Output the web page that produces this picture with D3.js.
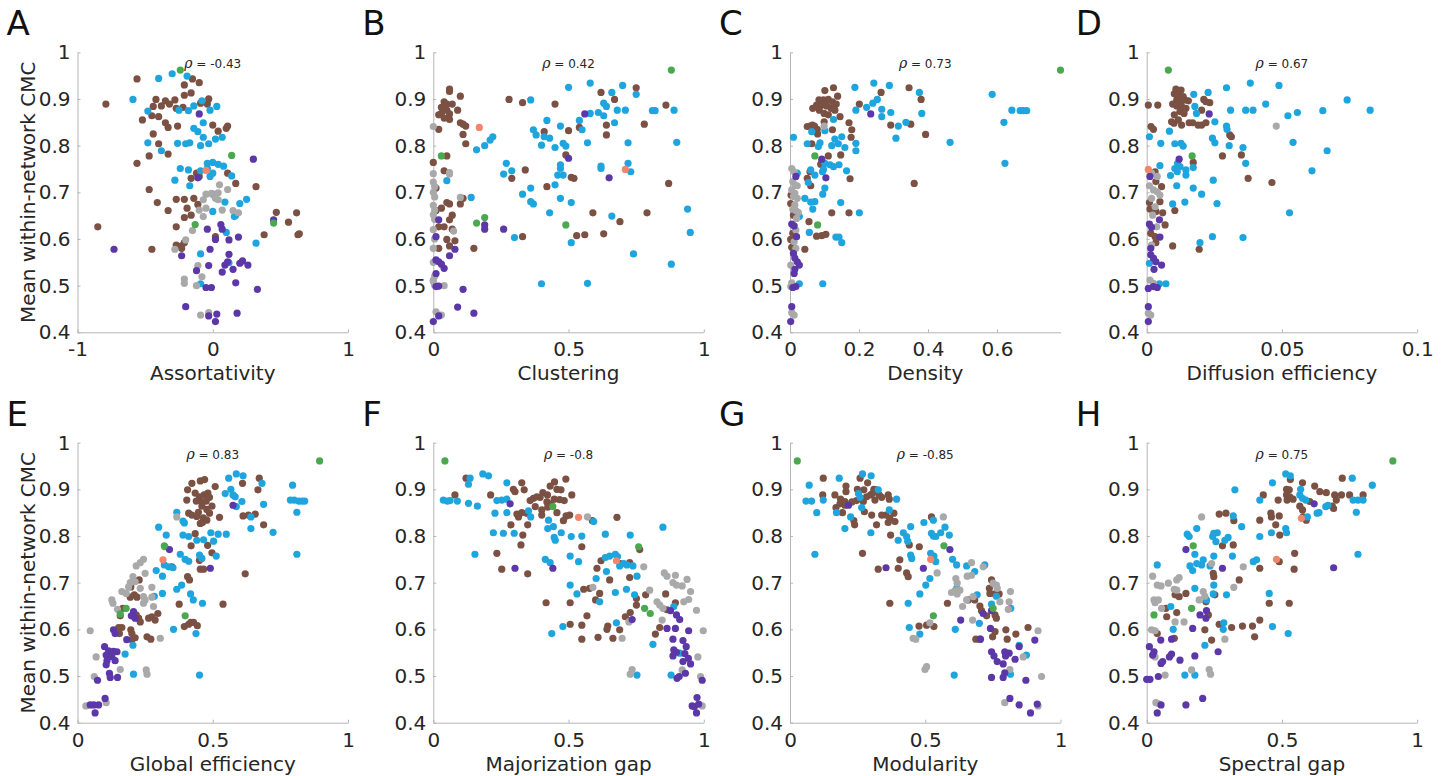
<!DOCTYPE html>
<html>
<head>
<meta charset="utf-8">
<script src="https://cdn.jsdelivr.net/npm/d3@7"></script>
<style>
  body { margin: 0; background: #fff; }
  text { font-family: "DejaVu Sans", sans-serif; }
</style>
</head>
<body>
<svg id="fig" width="1444" height="776"></svg>
<script>
// Each point: [x value, mean within-network CMC, group]
// groups: b = brown, u = blue, p = purple, g = gray, n = green, o = orange
var assortativity = [[-0.24,0.962,'n'],[-0.30,0.954,'u'],[-0.19,0.949,'u'],[-0.56,0.943,'b'],[-0.40,0.944,'u'],[-0.15,0.943,'b'],[-0.10,0.935,'b'],[-0.21,0.930,'b'],[-0.59,0.899,'u'],[-0.79,0.889,'b'],[-0.42,0.899,'b'],[-0.35,0.896,'b'],[-0.28,0.898,'b'],[-0.21,0.908,'b'],[-0.16,0.913,'b'],[-0.03,0.900,'b'],[-0.04,0.889,'b'],[-0.48,0.874,'u'],[-0.44,0.884,'b'],[-0.38,0.885,'b'],[-0.32,0.889,'b'],[-0.27,0.880,'b'],[-0.25,0.876,'u'],[-0.22,0.882,'b'],[-0.18,0.875,'u'],[-0.14,0.885,'u'],[-0.08,0.896,'u'],[-0.02,0.876,'u'],[0.03,0.884,'u'],[-0.09,0.891,'b'],[-0.10,0.868,'p'],[-0.52,0.855,'b'],[-0.45,0.864,'b'],[-0.40,0.862,'b'],[-0.35,0.849,'b'],[-0.33,0.839,'b'],[-0.26,0.842,'b'],[-0.14,0.837,'u'],[-0.07,0.849,'u'],[0.00,0.844,'b'],[0.04,0.831,'b'],[0.10,0.837,'b'],[0.11,0.842,'b'],[0.07,0.818,'u'],[0.02,0.814,'u'],[-0.44,0.825,'b'],[-0.48,0.806,'u'],[-0.40,0.804,'b'],[-0.38,0.789,'u'],[-0.33,0.782,'b'],[-0.26,0.805,'u'],[-0.20,0.804,'u'],[-0.17,0.806,'u'],[-0.09,0.800,'u'],[-0.03,0.804,'u'],[-0.07,0.818,'u'],[-0.11,0.830,'u'],[-0.47,0.778,'b'],[-0.56,0.762,'b'],[0.14,0.779,'n'],[0.30,0.771,'p'],[-0.24,0.751,'u'],[-0.18,0.748,'u'],[-0.12,0.741,'b'],[-0.09,0.746,'u'],[-0.04,0.762,'u'],[0.00,0.764,'u'],[0.04,0.760,'u'],[0.08,0.756,'u'],[-0.04,0.751,'u'],[0.00,0.741,'u'],[-0.02,0.734,'u'],[-0.10,0.734,'b'],[-0.11,0.731,'p'],[-0.05,0.747,'o'],[-0.16,0.730,'b'],[0.11,0.741,'b'],[0.14,0.735,'u'],[-0.28,0.726,'u'],[-0.17,0.714,'u'],[0.17,0.719,'b'],[0.32,0.712,'b'],[-0.47,0.706,'b'],[0.05,0.716,'g'],[0.11,0.706,'g'],[0.04,0.699,'g'],[-0.05,0.696,'g'],[-0.01,0.698,'g'],[0.00,0.696,'u'],[0.02,0.687,'g'],[0.04,0.684,'g'],[-0.07,0.684,'g'],[-0.41,0.678,'b'],[-0.27,0.685,'b'],[-0.21,0.685,'b'],[-0.14,0.687,'b'],[0.09,0.679,'u'],[0.25,0.685,'u'],[0.20,0.676,'u'],[-0.33,0.661,'b'],[-0.19,0.666,'b'],[-0.11,0.674,'b'],[-0.10,0.662,'g'],[-0.05,0.666,'g'],[0.00,0.659,'u'],[0.07,0.662,'g'],[0.15,0.661,'g'],[0.17,0.651,'u'],[0.19,0.656,'g'],[0.16,0.648,'u'],[-0.21,0.646,'b'],[-0.16,0.651,'b'],[-0.07,0.648,'g'],[0.47,0.657,'b'],[0.62,0.656,'b'],[0.56,0.636,'b'],[0.45,0.641,'p'],[0.45,0.634,'n'],[-0.85,0.626,'b'],[-0.13,0.631,'n'],[-0.15,0.618,'g'],[-0.27,0.626,'b'],[-0.04,0.621,'p'],[0.06,0.631,'p'],[0.07,0.621,'p'],[0.10,0.614,'u'],[0.02,0.605,'b'],[0.02,0.599,'p'],[-0.27,0.587,'b'],[-0.23,0.585,'b'],[-0.21,0.592,'b'],[-0.20,0.598,'g'],[-0.28,0.578,'g'],[-0.23,0.580,'b'],[-0.45,0.578,'b'],[-0.73,0.578,'p'],[0.12,0.598,'p'],[0.19,0.604,'p'],[0.38,0.609,'b'],[0.63,0.609,'b'],[0.64,0.611,'b'],[0.32,0.591,'u'],[-0.02,0.578,'p'],[-0.23,0.564,'p'],[-0.09,0.568,'u'],[0.12,0.567,'p'],[0.12,0.549,'u'],[-0.03,0.543,'p'],[0.09,0.544,'p'],[0.11,0.551,'p'],[-0.11,0.543,'g'],[-0.12,0.532,'p'],[0.07,0.529,'p'],[0.15,0.535,'p'],[0.20,0.548,'p'],[0.22,0.553,'p'],[0.26,0.544,'p'],[-0.21,0.514,'g'],[-0.21,0.505,'g'],[-0.08,0.519,'g'],[-0.09,0.504,'u'],[-0.12,0.500,'g'],[-0.05,0.496,'p'],[-0.01,0.496,'p'],[0.17,0.506,'p'],[0.33,0.492,'p'],[-0.20,0.455,'p'],[-0.09,0.437,'g'],[-0.03,0.442,'g'],[-0.03,0.435,'p'],[0.03,0.439,'p'],[0.02,0.423,'p'],[0.18,0.441,'p']];

var clustering = [[0.88,0.962,'n'],[0.50,0.925,'u'],[0.58,0.934,'u'],[0.70,0.929,'u'],[0.75,0.924,'b'],[0.75,0.910,'u'],[0.66,0.914,'u'],[0.62,0.914,'b'],[0.67,0.899,'b'],[0.63,0.891,'u'],[0.64,0.884,'u'],[0.61,0.871,'u'],[0.63,0.864,'u'],[0.68,0.876,'u'],[0.71,0.876,'u'],[0.56,0.868,'p'],[0.58,0.869,'u'],[0.54,0.854,'u'],[0.67,0.849,'u'],[0.78,0.846,'b'],[0.81,0.875,'u'],[0.82,0.875,'u'],[0.86,0.887,'b'],[0.89,0.876,'u'],[0.90,0.807,'u'],[0.45,0.889,'b'],[0.28,0.899,'b'],[0.33,0.892,'b'],[0.36,0.898,'u'],[0.37,0.834,'u'],[0.38,0.823,'u'],[0.41,0.819,'u'],[0.42,0.854,'u'],[0.41,0.830,'b'],[0.43,0.816,'u'],[0.40,0.801,'u'],[0.45,0.796,'u'],[0.47,0.842,'u'],[0.50,0.832,'b'],[0.54,0.839,'b'],[0.55,0.834,'u'],[0.64,0.823,'b'],[0.64,0.844,'b'],[0.57,0.806,'u'],[0.48,0.805,'u'],[0.49,0.799,'u'],[0.49,0.780,'b'],[0.50,0.773,'p'],[0.62,0.756,'u'],[0.62,0.751,'u'],[0.72,0.806,'u'],[0.72,0.762,'u'],[0.73,0.744,'u'],[0.71,0.749,'o'],[0.65,0.731,'p'],[0.87,0.719,'b'],[0.47,0.759,'u'],[0.47,0.751,'u'],[0.46,0.737,'u'],[0.48,0.737,'u'],[0.51,0.732,'b'],[0.52,0.730,'b'],[0.45,0.716,'u'],[0.42,0.712,'b'],[0.47,0.687,'u'],[0.51,0.678,'u'],[0.43,0.656,'u'],[0.59,0.656,'b'],[0.79,0.656,'b'],[0.66,0.649,'u'],[0.69,0.637,'b'],[0.94,0.664,'u'],[0.95,0.614,'u'],[0.49,0.630,'n'],[0.63,0.611,'b'],[0.53,0.607,'b'],[0.56,0.609,'b'],[0.51,0.592,'u'],[0.74,0.568,'u'],[0.88,0.546,'u'],[0.40,0.504,'u'],[0.57,0.505,'u'],[0.29,0.730,'b'],[0.29,0.746,'u'],[0.26,0.739,'u'],[0.27,0.762,'u'],[0.34,0.748,'b'],[0.36,0.709,'u'],[0.33,0.696,'u'],[0.36,0.680,'u'],[0.37,0.675,'u'],[0.30,0.603,'u'],[0.33,0.605,'b'],[0.26,0.621,'p'],[0.19,0.800,'u'],[0.21,0.812,'u'],[0.22,0.819,'u'],[0.16,0.791,'u'],[0.17,0.839,'o'],[0.14,0.689,'u'],[0.16,0.634,'n'],[0.19,0.646,'n'],[0.19,0.630,'p'],[0.19,0.621,'p'],[0.15,0.580,'b'],[0.15,0.441,'p'],[0.09,0.454,'p'],[0.11,0.492,'p'],[0.06,0.921,'b'],[0.06,0.916,'b'],[0.10,0.906,'b'],[0.04,0.894,'b'],[0.05,0.889,'b'],[0.07,0.889,'b'],[0.03,0.882,'b'],[0.02,0.866,'b'],[0.03,0.869,'b'],[0.05,0.876,'b'],[0.06,0.868,'b'],[0.04,0.859,'b'],[0.09,0.876,'b'],[0.06,0.856,'b'],[0.02,0.835,'b'],[0.10,0.849,'b'],[0.11,0.846,'b'],[0.12,0.842,'b'],[0.11,0.824,'b'],[0.12,0.804,'b'],[0.00,0.841,'g'],[0.00,0.764,'b'],[0.03,0.778,'n'],[0.05,0.778,'b'],[0.04,0.746,'b'],[0.06,0.742,'g'],[0.05,0.725,'u'],[0.06,0.739,'g'],[0.00,0.740,'g'],[0.00,0.722,'g'],[0.005,0.712,'g'],[0.00,0.700,'g'],[0.005,0.690,'g'],[0.00,0.672,'g'],[0.005,0.662,'g'],[0.00,0.652,'g'],[0.005,0.642,'g'],[0.00,0.620,'g'],[0.005,0.600,'g'],[0.00,0.550,'g'],[0.005,0.520,'g'],[0.00,0.512,'g'],[0.005,0.501,'g'],[0.01,0.709,'b'],[0.05,0.678,'b'],[0.06,0.675,'b'],[0.01,0.661,'b'],[0.03,0.666,'b'],[0.10,0.689,'g'],[0.10,0.675,'b'],[0.11,0.687,'b'],[0.07,0.651,'b'],[0.06,0.641,'b'],[0.02,0.626,'b'],[0.04,0.626,'b'],[0.07,0.621,'b'],[0.075,0.617,'g'],[0.02,0.641,'p'],[0.01,0.605,'p'],[0.05,0.599,'b'],[0.08,0.596,'b'],[0.06,0.585,'b'],[0.02,0.580,'b'],[0.00,0.580,'g'],[0.08,0.578,'p'],[0.06,0.564,'p'],[0.01,0.555,'p'],[0.02,0.551,'p'],[0.03,0.546,'p'],[0.04,0.537,'p'],[0.01,0.526,'p'],[0.00,0.509,'g'],[0.01,0.498,'p'],[0.02,0.499,'p'],[0.04,0.500,'g'],[0.01,0.444,'g'],[0.02,0.437,'g'],[0.03,0.437,'g'],[0.02,0.435,'p'],[0.00,0.423,'p']];

var density = [[0.784,0.962,'n'],[0.243,0.934,'u'],[0.188,0.925,'u'],[0.288,0.929,'u'],[0.345,0.924,'b'],[0.375,0.914,'u'],[0.264,0.914,'b'],[0.380,0.899,'b'],[0.253,0.899,'u'],[0.240,0.891,'u'],[0.222,0.882,'u'],[0.201,0.889,'b'],[0.191,0.876,'u'],[0.266,0.878,'u'],[0.266,0.862,'u'],[0.292,0.871,'u'],[0.234,0.868,'p'],[0.382,0.869,'u'],[0.336,0.850,'u'],[0.350,0.846,'b'],[0.292,0.844,'b'],[0.314,0.842,'u'],[0.393,0.824,'b'],[0.307,0.816,'u'],[0.464,0.807,'u'],[0.360,0.719,'b'],[0.586,0.910,'u'],[0.643,0.876,'u'],[0.667,0.875,'u'],[0.676,0.875,'u'],[0.686,0.875,'u'],[0.620,0.850,'u'],[0.623,0.762,'u'],[0.126,0.924,'b'],[0.101,0.918,'b'],[0.138,0.906,'b'],[0.084,0.898,'b'],[0.097,0.898,'b'],[0.111,0.899,'b'],[0.123,0.894,'b'],[0.134,0.889,'b'],[0.077,0.887,'b'],[0.092,0.887,'b'],[0.106,0.885,'b'],[0.119,0.880,'b'],[0.130,0.876,'b'],[0.066,0.880,'b'],[0.085,0.876,'b'],[0.099,0.869,'b'],[0.111,0.866,'b'],[0.145,0.862,'b'],[0.126,0.856,'u'],[0.099,0.851,'b'],[0.058,0.842,'b'],[0.065,0.844,'b'],[0.071,0.842,'b'],[0.050,0.841,'b'],[0.079,0.835,'b'],[0.123,0.834,'b'],[0.171,0.849,'b'],[0.179,0.834,'b'],[0.099,0.842,'g'],[0.063,0.830,'u'],[0.101,0.832,'u'],[0.010,0.818,'u'],[0.080,0.825,'b'],[0.063,0.804,'b'],[0.050,0.804,'u'],[0.082,0.798,'u'],[0.087,0.806,'u'],[0.121,0.800,'u'],[0.140,0.804,'u'],[0.150,0.819,'u'],[0.159,0.796,'u'],[0.191,0.805,'u'],[0.191,0.789,'u'],[0.130,0.814,'u'],[0.177,0.818,'b'],[0.072,0.778,'n'],[0.111,0.778,'b'],[0.147,0.780,'b'],[0.092,0.764,'b'],[0.089,0.760,'b'],[0.092,0.771,'p'],[0.101,0.762,'u'],[0.116,0.759,'u'],[0.126,0.755,'u'],[0.142,0.759,'u'],[0.097,0.749,'u'],[0.094,0.744,'u'],[0.164,0.746,'u'],[0.174,0.729,'b'],[0.104,0.731,'p'],[0.060,0.748,'u'],[0.058,0.744,'b'],[0.050,0.730,'b'],[0.072,0.737,'u'],[0.053,0.721,'u'],[0.060,0.714,'b'],[0.101,0.709,'u'],[0.095,0.696,'u'],[0.043,0.687,'u'],[0.060,0.679,'u'],[0.072,0.680,'u'],[0.066,0.664,'u'],[0.147,0.678,'u'],[0.121,0.656,'b'],[0.171,0.656,'b'],[0.201,0.656,'u'],[0.055,0.637,'b'],[0.080,0.630,'n'],[0.056,0.614,'u'],[0.077,0.606,'b'],[0.092,0.607,'b'],[0.104,0.610,'b'],[0.133,0.604,'u'],[0.142,0.604,'u'],[0.150,0.592,'u'],[0.043,0.578,'b'],[0.095,0.504,'u'],[0.005,0.751,'g'],[0.012,0.744,'g'],[0.021,0.741,'u'],[0.017,0.734,'p'],[0.008,0.723,'g'],[0.014,0.716,'g'],[0.021,0.714,'g'],[0.005,0.705,'g'],[0.014,0.698,'g'],[0.010,0.691,'g'],[0.021,0.687,'g'],[0.003,0.694,'b'],[0.002,0.676,'b'],[0.014,0.673,'g'],[0.008,0.664,'g'],[0.017,0.661,'g'],[0.024,0.657,'g'],[0.010,0.651,'b'],[0.019,0.644,'g'],[0.027,0.648,'u'],[0.005,0.632,'p'],[0.012,0.628,'p'],[0.017,0.619,'g'],[0.008,0.612,'b'],[0.019,0.605,'p'],[0.002,0.599,'b'],[0.012,0.594,'g'],[0.005,0.582,'b'],[0.017,0.580,'g'],[0.010,0.569,'p'],[0.014,0.559,'p'],[0.021,0.551,'p'],[0.027,0.544,'p'],[0.002,0.544,'g'],[0.014,0.535,'p'],[0.012,0.526,'p'],[0.005,0.506,'g'],[0.027,0.504,'u'],[0.002,0.498,'g'],[0.008,0.496,'p'],[0.017,0.498,'p'],[0.005,0.455,'p'],[0.005,0.442,'g'],[0.012,0.437,'g'],[0.002,0.423,'p']];

var diffusion = [[0.0080,0.962,'n'],[0.0383,0.934,'u'],[0.0489,0.929,'u'],[0.0295,0.924,'u'],[0.0227,0.914,'u'],[0.0174,0.910,'u'],[0.0108,0.921,'b'],[0.0117,0.918,'b'],[0.0127,0.919,'b'],[0.0102,0.911,'b'],[0.0120,0.908,'b'],[0.0135,0.905,'b'],[0.0096,0.889,'b'],[0.0111,0.898,'b'],[0.0127,0.894,'b'],[0.0141,0.898,'b'],[0.0154,0.896,'b'],[0.0111,0.885,'b'],[0.0129,0.884,'b'],[0.0145,0.880,'b'],[0.0123,0.873,'b'],[0.0138,0.869,'b'],[0.0102,0.866,'b'],[0.0211,0.899,'b'],[0.0219,0.894,'b'],[0.0233,0.892,'b'],[0.0178,0.884,'u'],[0.0203,0.876,'b'],[0.0231,0.868,'p'],[0.0184,0.869,'u'],[0.0006,0.887,'b'],[0.0041,0.887,'b'],[0.0016,0.841,'b'],[0.0025,0.835,'b'],[0.0092,0.851,'b'],[0.0101,0.848,'b'],[0.0117,0.855,'b'],[0.0129,0.844,'b'],[0.0157,0.849,'b'],[0.0170,0.849,'b'],[0.0190,0.844,'b'],[0.0203,0.844,'b'],[0.0219,0.849,'b'],[0.0252,0.851,'u'],[0.0295,0.842,'u'],[0.0297,0.835,'u'],[0.0307,0.823,'b'],[0.0313,0.819,'b'],[0.0310,0.876,'u'],[0.0366,0.876,'u'],[0.0393,0.876,'u'],[0.0440,0.889,'u'],[0.0557,0.871,'u'],[0.0522,0.864,'u'],[0.0651,0.875,'u'],[0.0741,0.898,'u'],[0.0826,0.876,'u'],[0.0479,0.842,'g'],[0.0541,0.807,'u'],[0.0667,0.789,'u'],[0.0611,0.746,'u'],[0.0528,0.656,'u'],[0.0010,0.819,'u'],[0.0084,0.831,'u'],[0.0052,0.805,'u'],[0.0104,0.804,'u'],[0.0127,0.805,'u'],[0.0135,0.799,'u'],[0.0243,0.816,'u'],[0.0252,0.806,'u'],[0.0305,0.800,'u'],[0.0356,0.796,'u'],[0.0280,0.778,'b'],[0.0350,0.780,'b'],[0.0366,0.762,'u'],[0.0375,0.730,'b'],[0.0463,0.721,'b'],[0.0168,0.778,'n'],[0.0172,0.764,'b'],[0.0120,0.771,'p'],[0.0172,0.753,'u'],[0.0114,0.762,'u'],[0.0123,0.755,'u'],[0.0104,0.751,'u'],[0.0113,0.744,'u'],[0.0145,0.748,'u'],[0.0145,0.737,'u'],[0.0088,0.736,'u'],[0.0049,0.757,'u'],[0.0111,0.714,'u'],[0.0172,0.709,'u'],[0.0203,0.696,'u'],[0.0246,0.726,'u'],[0.0141,0.679,'u'],[0.0096,0.675,'u'],[0.0260,0.676,'u'],[0.0104,0.661,'b'],[0.0197,0.592,'u'],[0.0194,0.578,'b'],[0.0243,0.605,'u'],[0.0356,0.603,'u'],[0.0096,0.585,'b'],[0.0047,0.504,'u'],[0.0071,0.504,'u'],[0.0006,0.749,'o'],[0.0031,0.744,'b'],[0.0018,0.741,'g'],[0.0012,0.734,'p'],[0.0039,0.734,'g'],[0.0034,0.723,'b'],[0.0010,0.714,'g'],[0.0055,0.712,'b'],[0.0025,0.705,'g'],[0.0039,0.701,'g'],[0.0049,0.694,'g'],[0.0018,0.687,'g'],[0.0010,0.678,'b'],[0.0049,0.680,'b'],[0.0031,0.669,'g'],[0.0012,0.664,'b'],[0.0034,0.659,'b'],[0.0022,0.651,'g'],[0.0059,0.656,'b'],[0.0010,0.632,'p'],[0.0018,0.625,'p'],[0.0068,0.630,'b'],[0.0037,0.626,'g'],[0.0047,0.641,'p'],[0.0015,0.612,'b'],[0.0031,0.605,'b'],[0.0049,0.604,'p'],[0.0034,0.592,'b'],[0.0018,0.587,'g'],[0.0015,0.580,'p'],[0.0015,0.566,'p'],[0.0025,0.559,'p'],[0.0034,0.551,'p'],[0.0055,0.544,'p'],[0.0027,0.535,'p'],[0.0010,0.548,'u'],[0.0012,0.512,'g'],[0.0025,0.505,'g'],[0.0006,0.494,'p'],[0.0025,0.498,'p'],[0.0039,0.496,'p'],[0.0006,0.455,'p'],[0.0006,0.441,'g'],[0.0015,0.437,'g'],[0.0006,0.423,'p']];

var globalEff = [[0.895,0.961,'n'],[0.559,0.924,'u'],[0.587,0.933,'u'],[0.612,0.929,'u'],[0.672,0.924,'b'],[0.610,0.913,'b'],[0.682,0.913,'u'],[0.567,0.900,'u'],[0.667,0.899,'b'],[0.795,0.909,'u'],[0.546,0.891,'u'],[0.575,0.888,'u'],[0.583,0.884,'u'],[0.608,0.874,'u'],[0.688,0.868,'u'],[0.575,0.866,'p'],[0.587,0.863,'u'],[0.787,0.877,'u'],[0.801,0.877,'u'],[0.818,0.875,'u'],[0.830,0.875,'u'],[0.840,0.875,'u'],[0.811,0.851,'u'],[0.811,0.761,'u'],[0.723,0.808,'u'],[0.612,0.843,'b'],[0.632,0.845,'b'],[0.641,0.841,'u'],[0.657,0.847,'b'],[0.688,0.824,'b'],[0.641,0.816,'u'],[0.620,0.719,'b'],[0.538,0.654,'b'],[0.454,0.918,'b'],[0.470,0.921,'b'],[0.423,0.913,'b'],[0.509,0.906,'b'],[0.407,0.899,'b'],[0.435,0.892,'b'],[0.451,0.884,'b'],[0.468,0.888,'b'],[0.482,0.892,'b'],[0.488,0.883,'b'],[0.404,0.877,'b'],[0.439,0.875,'b'],[0.460,0.873,'b'],[0.476,0.875,'b'],[0.497,0.864,'b'],[0.460,0.864,'b'],[0.478,0.857,'b'],[0.447,0.851,'b'],[0.411,0.849,'b'],[0.423,0.845,'b'],[0.441,0.842,'b'],[0.488,0.849,'b'],[0.465,0.839,'b'],[0.525,0.840,'b'],[0.478,0.834,'b'],[0.454,0.827,'b'],[0.367,0.851,'u'],[0.367,0.841,'g'],[0.462,0.829,'b'],[0.390,0.832,'u'],[0.395,0.828,'u'],[0.300,0.819,'u'],[0.328,0.802,'u'],[0.435,0.805,'b'],[0.390,0.802,'u'],[0.411,0.799,'u'],[0.441,0.791,'u'],[0.493,0.807,'u'],[0.520,0.804,'u'],[0.550,0.804,'u'],[0.503,0.789,'u'],[0.466,0.792,'u'],[0.420,0.779,'b'],[0.481,0.780,'b'],[0.323,0.777,'u'],[0.321,0.779,'n'],[0.340,0.771,'p'],[0.380,0.761,'u'],[0.398,0.750,'u'],[0.411,0.746,'u'],[0.497,0.764,'b'],[0.513,0.757,'u'],[0.451,0.759,'u'],[0.460,0.752,'u'],[0.451,0.748,'b'],[0.454,0.729,'b'],[0.466,0.729,'b'],[0.491,0.731,'p'],[0.316,0.749,'o'],[0.321,0.738,'u'],[0.337,0.734,'u'],[0.353,0.732,'u'],[0.349,0.734,'b'],[0.291,0.726,'u'],[0.314,0.714,'u'],[0.407,0.713,'b'],[0.414,0.706,'b'],[0.367,0.686,'u'],[0.385,0.695,'u'],[0.418,0.676,'u'],[0.428,0.663,'u'],[0.462,0.656,'u'],[0.376,0.654,'b'],[0.314,0.677,'u'],[0.284,0.671,'u'],[0.355,0.600,'u'],[0.398,0.629,'n'],[0.395,0.606,'b'],[0.411,0.611,'b'],[0.419,0.615,'b'],[0.429,0.615,'b'],[0.443,0.608,'b'],[0.438,0.591,'u'],[0.451,0.502,'u'],[0.207,0.504,'u'],[0.217,0.736,'g'],[0.232,0.743,'g'],[0.244,0.750,'g'],[0.250,0.720,'g'],[0.205,0.713,'g'],[0.195,0.700,'g'],[0.189,0.691,'g'],[0.180,0.677,'g'],[0.164,0.681,'g'],[0.213,0.702,'g'],[0.232,0.688,'g'],[0.244,0.670,'g'],[0.250,0.663,'g'],[0.244,0.656,'g'],[0.275,0.690,'g'],[0.275,0.669,'g'],[0.281,0.649,'g'],[0.127,0.663,'g'],[0.131,0.656,'g'],[0.148,0.643,'g'],[0.047,0.597,'g'],[0.069,0.541,'g'],[0.062,0.499,'g'],[0.158,0.514,'g'],[0.254,0.513,'g'],[0.257,0.504,'g'],[0.306,0.581,'g'],[0.031,0.436,'g'],[0.106,0.443,'g'],[0.228,0.706,'b'],[0.197,0.691,'b'],[0.210,0.674,'b'],[0.220,0.669,'b'],[0.195,0.669,'b'],[0.167,0.645,'b'],[0.158,0.629,'b'],[0.217,0.631,'b'],[0.226,0.624,'b'],[0.232,0.616,'b'],[0.263,0.624,'b'],[0.275,0.627,'b'],[0.287,0.620,'b'],[0.297,0.634,'b'],[0.152,0.604,'b'],[0.164,0.604,'b'],[0.197,0.599,'b'],[0.201,0.591,'b'],[0.155,0.591,'b'],[0.257,0.584,'b'],[0.271,0.579,'b'],[0.213,0.582,'b'],[0.201,0.578,'b'],[0.180,0.645,'n'],[0.158,0.633,'n'],[0.205,0.566,'u'],[0.176,0.547,'u'],[0.207,0.638,'p'],[0.199,0.629,'p'],[0.213,0.624,'p'],[0.182,0.578,'p'],[0.133,0.599,'p'],[0.139,0.591,'p'],[0.100,0.563,'p'],[0.115,0.554,'p'],[0.106,0.545,'p'],[0.133,0.553,'p'],[0.146,0.552,'p'],[0.127,0.542,'p'],[0.109,0.533,'p'],[0.139,0.533,'p'],[0.106,0.524,'p'],[0.118,0.506,'p'],[0.121,0.497,'p'],[0.148,0.497,'p'],[0.074,0.491,'p'],[0.102,0.452,'p'],[0.047,0.438,'p'],[0.060,0.438,'p'],[0.078,0.438,'p'],[0.065,0.421,'p']];

var majorization = [[0.043,0.961,'n'],[0.183,0.933,'u'],[0.204,0.929,'u'],[0.136,0.924,'u'],[0.121,0.924,'b'],[0.130,0.911,'u'],[0.272,0.914,'u'],[0.327,0.914,'b'],[0.296,0.900,'b'],[0.302,0.895,'b'],[0.336,0.899,'b'],[0.212,0.888,'b'],[0.080,0.888,'b'],[0.037,0.877,'u'],[0.052,0.875,'u'],[0.062,0.876,'u'],[0.089,0.875,'u'],[0.130,0.870,'u'],[0.163,0.864,'u'],[0.235,0.876,'u'],[0.253,0.877,'u'],[0.272,0.879,'u'],[0.228,0.849,'u'],[0.272,0.850,'u'],[0.284,0.869,'p'],[0.315,0.841,'b'],[0.309,0.847,'b'],[0.327,0.850,'b'],[0.346,0.849,'b'],[0.352,0.854,'u'],[0.360,0.841,'u'],[0.349,0.824,'b'],[0.287,0.824,'b'],[0.222,0.807,'u'],[0.259,0.806,'u'],[0.299,0.806,'u'],[0.331,0.802,'b'],[0.324,0.781,'b'],[0.154,0.761,'u'],[0.235,0.763,'b'],[0.253,0.729,'b'],[0.302,0.731,'p'],[0.349,0.719,'b'],[0.448,0.916,'b'],[0.490,0.922,'b'],[0.432,0.907,'b'],[0.457,0.900,'b'],[0.472,0.899,'b'],[0.512,0.888,'b'],[0.405,0.893,'b'],[0.422,0.888,'b'],[0.370,0.881,'b'],[0.383,0.884,'b'],[0.395,0.883,'b'],[0.358,0.876,'b'],[0.377,0.863,'b'],[0.420,0.873,'b'],[0.435,0.869,'b'],[0.447,0.879,'b'],[0.467,0.878,'b'],[0.484,0.876,'b'],[0.423,0.862,'b'],[0.401,0.856,'b'],[0.442,0.863,'n'],[0.457,0.850,'b'],[0.401,0.845,'b'],[0.491,0.843,'b'],[0.504,0.845,'b'],[0.481,0.833,'b'],[0.537,0.840,'o'],[0.570,0.841,'g'],[0.588,0.833,'b'],[0.593,0.831,'u'],[0.679,0.840,'b'],[0.426,0.834,'u'],[0.444,0.820,'u'],[0.423,0.816,'u'],[0.451,0.791,'u'],[0.447,0.797,'u'],[0.473,0.807,'u'],[0.510,0.799,'u'],[0.549,0.800,'u'],[0.636,0.804,'u'],[0.728,0.802,'u'],[0.849,0.819,'u'],[0.549,0.777,'b'],[0.759,0.777,'n'],[0.763,0.771,'b'],[0.506,0.757,'u'],[0.537,0.745,'u'],[0.414,0.750,'u'],[0.432,0.743,'u'],[0.442,0.731,'p'],[0.620,0.747,'b'],[0.636,0.754,'u'],[0.652,0.757,'u'],[0.673,0.761,'u'],[0.681,0.756,'u'],[0.677,0.747,'o'],[0.691,0.741,'b'],[0.689,0.736,'u'],[0.704,0.741,'u'],[0.716,0.738,'u'],[0.726,0.743,'b'],[0.738,0.736,'u'],[0.640,0.724,'u'],[0.605,0.731,'b'],[0.602,0.709,'u'],[0.652,0.706,'b'],[0.726,0.711,'b'],[0.753,0.714,'u'],[0.778,0.734,'g'],[0.506,0.695,'u'],[0.578,0.688,'b'],[0.590,0.690,'g'],[0.531,0.676,'u'],[0.556,0.686,'b'],[0.615,0.677,'b'],[0.673,0.679,'u'],[0.714,0.686,'u'],[0.744,0.674,'u'],[0.751,0.666,'b'],[0.785,0.674,'b'],[0.800,0.684,'g'],[0.859,0.676,'b'],[0.600,0.663,'b'],[0.615,0.659,'u'],[0.417,0.657,'b'],[0.506,0.657,'b'],[0.751,0.652,'b'],[0.781,0.645,'n'],[0.802,0.634,'n'],[0.728,0.636,'b'],[0.710,0.627,'b'],[0.735,0.621,'p'],[0.723,0.616,'g'],[0.677,0.614,'u'],[0.568,0.629,'b'],[0.645,0.607,'b'],[0.642,0.600,'b'],[0.689,0.599,'b'],[0.609,0.583,'b'],[0.664,0.581,'b'],[0.698,0.581,'g'],[0.549,0.609,'b'],[0.549,0.579,'b'],[0.506,0.611,'b'],[0.479,0.606,'u'],[0.438,0.591,'u'],[0.821,0.590,'b'],[0.812,0.568,'u'],[0.837,0.604,'b'],[0.864,0.602,'p'],[0.854,0.721,'g'],[0.864,0.714,'g'],[0.895,0.716,'g'],[0.886,0.700,'g'],[0.899,0.695,'g'],[0.920,0.693,'g'],[0.938,0.707,'g'],[0.951,0.681,'g'],[0.944,0.664,'g'],[0.926,0.659,'g'],[0.827,0.659,'g'],[0.837,0.652,'g'],[0.849,0.645,'g'],[0.846,0.620,'g'],[0.973,0.641,'g'],[0.998,0.597,'g'],[0.864,0.642,'b'],[0.877,0.640,'p'],[0.889,0.649,'u'],[0.899,0.631,'p'],[0.911,0.621,'p'],[0.895,0.657,'b'],[0.895,0.602,'p'],[0.944,0.597,'p'],[0.886,0.579,'p'],[0.923,0.576,'p'],[0.935,0.563,'p'],[0.889,0.556,'p'],[0.899,0.551,'p'],[0.886,0.543,'p'],[0.911,0.549,'u'],[0.930,0.548,'p'],[0.943,0.538,'p'],[0.923,0.531,'p'],[0.951,0.526,'p'],[0.932,0.506,'p'],[0.920,0.513,'g'],[0.879,0.502,'u'],[0.901,0.495,'p'],[0.909,0.499,'p'],[0.978,0.541,'g'],[0.988,0.499,'g'],[0.994,0.491,'p'],[0.753,0.502,'u'],[0.735,0.514,'g'],[0.728,0.504,'g'],[0.975,0.454,'p'],[0.957,0.436,'p'],[0.965,0.434,'p'],[0.981,0.440,'p'],[0.994,0.436,'g'],[0.973,0.421,'p']];

var modularity = [[0.027,0.961,'n'],[0.268,0.933,'u'],[0.300,0.929,'u'],[0.259,0.924,'b'],[0.123,0.924,'b'],[0.182,0.924,'u'],[0.287,0.914,'b'],[0.071,0.909,'u'],[0.207,0.907,'b'],[0.273,0.899,'b'],[0.310,0.900,'b'],[0.318,0.899,'b'],[0.249,0.900,'b'],[0.326,0.899,'u'],[0.059,0.875,'u'],[0.080,0.875,'u'],[0.099,0.850,'u'],[0.121,0.888,'b'],[0.123,0.877,'u'],[0.166,0.888,'b'],[0.187,0.879,'b'],[0.207,0.895,'b'],[0.203,0.874,'b'],[0.185,0.869,'b'],[0.203,0.866,'b'],[0.216,0.866,'p'],[0.170,0.861,'b'],[0.172,0.850,'u'],[0.194,0.850,'b'],[0.229,0.873,'b'],[0.246,0.876,'b'],[0.253,0.891,'u'],[0.259,0.883,'u'],[0.271,0.874,'b'],[0.283,0.884,'b'],[0.298,0.888,'b'],[0.305,0.891,'b'],[0.330,0.888,'b'],[0.314,0.877,'b'],[0.339,0.883,'b'],[0.363,0.888,'b'],[0.367,0.879,'b'],[0.394,0.879,'u'],[0.265,0.861,'u'],[0.275,0.852,'b'],[0.302,0.845,'b'],[0.339,0.845,'b'],[0.355,0.845,'b'],[0.367,0.856,'u'],[0.384,0.849,'b'],[0.369,0.838,'b'],[0.388,0.831,'b'],[0.363,0.829,'b'],[0.320,0.824,'b'],[0.236,0.833,'b'],[0.239,0.824,'b'],[0.224,0.841,'u'],[0.203,0.816,'u'],[0.299,0.807,'u'],[0.372,0.802,'b'],[0.268,0.763,'b'],[0.092,0.761,'u'],[0.326,0.729,'b'],[0.355,0.732,'p'],[0.369,0.656,'b'],[0.400,0.731,'b'],[0.406,0.749,'b'],[0.400,0.791,'u'],[0.419,0.807,'u'],[0.431,0.799,'u'],[0.446,0.820,'u'],[0.435,0.789,'u'],[0.441,0.781,'b'],[0.446,0.759,'u'],[0.450,0.752,'u'],[0.431,0.721,'b'],[0.437,0.713,'b'],[0.478,0.777,'b'],[0.493,0.731,'p'],[0.495,0.829,'u'],[0.523,0.841,'b'],[0.530,0.834,'u'],[0.567,0.841,'g'],[0.523,0.806,'u'],[0.530,0.800,'u'],[0.539,0.799,'u'],[0.557,0.807,'u'],[0.573,0.819,'u'],[0.589,0.802,'u'],[0.569,0.779,'n'],[0.591,0.771,'p'],[0.520,0.763,'u'],[0.532,0.757,'u'],[0.520,0.750,'o'],[0.539,0.745,'u'],[0.601,0.750,'u'],[0.616,0.738,'u'],[0.544,0.721,'g'],[0.517,0.709,'u'],[0.502,0.695,'u'],[0.480,0.676,'u'],[0.437,0.656,'u'],[0.582,0.656,'b'],[0.441,0.604,'u'],[0.480,0.590,'u'],[0.477,0.607,'b'],[0.505,0.609,'b'],[0.532,0.606,'b'],[0.530,0.629,'n'],[0.517,0.614,'g'],[0.455,0.581,'g'],[0.465,0.579,'g'],[0.499,0.514,'g'],[0.505,0.520,'g'],[0.607,0.502,'u'],[0.611,0.600,'u'],[0.613,0.709,'g'],[0.618,0.699,'g'],[0.597,0.679,'g'],[0.610,0.683,'g'],[0.618,0.676,'g'],[0.628,0.684,'g'],[0.616,0.688,'u'],[0.653,0.736,'u'],[0.671,0.743,'g'],[0.683,0.724,'u'],[0.655,0.714,'g'],[0.671,0.716,'g'],[0.720,0.738,'u'],[0.714,0.734,'g'],[0.692,0.674,'u'],[0.677,0.670,'g'],[0.659,0.663,'b'],[0.653,0.663,'g'],[0.638,0.649,'g'],[0.683,0.663,'b'],[0.631,0.620,'p'],[0.675,0.620,'g'],[0.687,0.579,'b'],[0.702,0.579,'b'],[0.704,0.579,'p'],[0.702,0.650,'b'],[0.700,0.613,'u'],[0.708,0.640,'b'],[0.714,0.634,'p'],[0.727,0.629,'b'],[0.745,0.706,'b'],[0.737,0.688,'b'],[0.739,0.677,'b'],[0.758,0.676,'b'],[0.773,0.676,'b'],[0.751,0.699,'g'],[0.763,0.695,'g'],[0.766,0.688,'g'],[0.776,0.659,'g'],[0.763,0.671,'u'],[0.745,0.654,'u'],[0.751,0.645,'n'],[0.745,0.640,'p'],[0.758,0.631,'b'],[0.763,0.624,'b'],[0.741,0.602,'p'],[0.749,0.584,'b'],[0.758,0.595,'b'],[0.798,0.599,'b'],[0.803,0.579,'b'],[0.835,0.590,'b'],[0.880,0.604,'b'],[0.917,0.597,'g'],[0.905,0.577,'p'],[0.815,0.681,'g'],[0.810,0.659,'g'],[0.807,0.643,'g'],[0.816,0.645,'u'],[0.847,0.566,'u'],[0.847,0.563,'p'],[0.874,0.545,'u'],[0.862,0.541,'g'],[0.745,0.552,'p'],[0.754,0.543,'p'],[0.766,0.531,'p'],[0.794,0.552,'p'],[0.810,0.549,'p'],[0.797,0.543,'p'],[0.832,0.536,'p'],[0.788,0.526,'p'],[0.794,0.507,'p'],[0.788,0.497,'p'],[0.745,0.497,'p'],[0.813,0.514,'g'],[0.815,0.504,'u'],[0.872,0.491,'p'],[0.930,0.499,'g'],[0.794,0.443,'g'],[0.813,0.452,'p'],[0.847,0.438,'p'],[0.917,0.436,'g'],[0.914,0.440,'p'],[0.889,0.421,'p']];

var spectralGap = [[0.910,0.961,'n'],[0.514,0.933,'u'],[0.531,0.929,'u'],[0.465,0.914,'u'],[0.531,0.921,'b'],[0.760,0.924,'u'],[0.723,0.924,'b'],[0.834,0.909,'u'],[0.576,0.914,'b'],[0.621,0.907,'b'],[0.517,0.900,'b'],[0.527,0.899,'b'],[0.569,0.900,'u'],[0.664,0.893,'b'],[0.640,0.895,'b'],[0.326,0.899,'u'],[0.431,0.888,'b'],[0.418,0.877,'u'],[0.486,0.877,'b'],[0.517,0.888,'b'],[0.529,0.884,'b'],[0.519,0.877,'b'],[0.541,0.879,'b'],[0.566,0.888,'u'],[0.576,0.881,'u'],[0.588,0.877,'u'],[0.566,0.864,'b'],[0.576,0.856,'b'],[0.590,0.834,'b'],[0.578,0.841,'b'],[0.572,0.838,'o'],[0.594,0.841,'u'],[0.603,0.874,'b'],[0.695,0.888,'b'],[0.720,0.888,'b'],[0.750,0.888,'b'],[0.800,0.888,'b'],[0.701,0.877,'b'],[0.619,0.869,'p'],[0.630,0.849,'u'],[0.637,0.850,'u'],[0.662,0.863,'u'],[0.670,0.866,'u'],[0.686,0.864,'b'],[0.691,0.859,'b'],[0.763,0.877,'u'],[0.781,0.877,'u'],[0.800,0.877,'u'],[0.775,0.851,'u'],[0.781,0.761,'u'],[0.691,0.732,'p'],[0.459,0.849,'b'],[0.461,0.841,'b'],[0.490,0.843,'b'],[0.418,0.834,'b'],[0.477,0.824,'b'],[0.461,0.807,'u'],[0.492,0.802,'b'],[0.418,0.799,'u'],[0.514,0.816,'u'],[0.517,0.807,'u'],[0.547,0.763,'b'],[0.545,0.729,'b'],[0.480,0.750,'o'],[0.490,0.745,'b'],[0.418,0.731,'b'],[0.406,0.749,'u'],[0.394,0.745,'u'],[0.527,0.656,'b'],[0.453,0.677,'u'],[0.453,0.656,'b'],[0.465,0.606,'u'],[0.523,0.591,'u'],[0.418,0.620,'b'],[0.391,0.607,'b'],[0.399,0.584,'b'],[0.354,0.607,'b'],[0.314,0.604,'b'],[0.268,0.611,'b'],[0.285,0.614,'u'],[0.295,0.674,'u'],[0.322,0.690,'g'],[0.342,0.706,'b'],[0.357,0.734,'g'],[0.317,0.757,'u'],[0.301,0.797,'u'],[0.320,0.843,'u'],[0.293,0.849,'b'],[0.268,0.847,'b'],[0.322,0.833,'b'],[0.320,0.781,'b'],[0.280,0.779,'b'],[0.351,0.820,'u'],[0.248,0.806,'u'],[0.261,0.807,'u'],[0.244,0.799,'u'],[0.256,0.788,'u'],[0.289,0.791,'u'],[0.203,0.841,'g'],[0.185,0.816,'u'],[0.150,0.804,'u'],[0.157,0.799,'u'],[0.172,0.779,'n'],[0.145,0.771,'p'],[0.178,0.761,'u'],[0.185,0.741,'u'],[0.160,0.736,'u'],[0.170,0.726,'u'],[0.203,0.738,'u'],[0.248,0.757,'u'],[0.209,0.749,'u'],[0.234,0.736,'u'],[0.240,0.741,'g'],[0.246,0.720,'b'],[0.248,0.713,'b'],[0.248,0.695,'u'],[0.246,0.676,'u'],[0.252,0.674,'b'],[0.280,0.731,'p'],[0.178,0.688,'u'],[0.145,0.677,'b'],[0.194,0.663,'g'],[0.209,0.681,'g'],[0.215,0.671,'g'],[0.221,0.663,'u'],[0.219,0.659,'b'],[0.221,0.640,'p'],[0.197,0.631,'p'],[0.228,0.631,'b'],[0.219,0.624,'p'],[0.166,0.645,'n'],[0.215,0.599,'b'],[0.240,0.577,'b'],[0.215,0.566,'u'],[0.264,0.552,'p'],[0.178,0.543,'p'],[0.123,0.534,'p'],[0.084,0.541,'p'],[0.092,0.547,'p'],[0.170,0.602,'p'],[0.178,0.502,'u'],[0.141,0.502,'u'],[0.166,0.513,'g'],[0.231,0.514,'g'],[0.236,0.504,'g'],[0.289,0.579,'g'],[0.283,0.600,'u'],[0.145,0.438,'p'],[0.207,0.452,'p'],[0.039,0.738,'u'],[0.022,0.714,'g'],[0.039,0.695,'g'],[0.053,0.693,'g'],[0.080,0.699,'g'],[0.111,0.706,'g'],[0.120,0.711,'g'],[0.105,0.674,'b'],[0.111,0.684,'g'],[0.102,0.686,'g'],[0.120,0.670,'b'],[0.027,0.663,'g'],[0.031,0.657,'g'],[0.043,0.663,'g'],[0.055,0.645,'g'],[0.071,0.645,'b'],[0.089,0.649,'u'],[0.074,0.627,'b'],[0.027,0.631,'n'],[0.111,0.636,'b'],[0.098,0.600,'u'],[0.105,0.616,'g'],[0.138,0.616,'g'],[0.102,0.581,'b'],[0.018,0.599,'g'],[0.031,0.597,'g'],[0.039,0.591,'b'],[0.010,0.563,'p'],[0.027,0.552,'p'],[0.022,0.545,'p'],[0.031,0.541,'g'],[0.052,0.577,'p'],[0.092,0.579,'p'],[0.053,0.527,'p'],[0.059,0.531,'p'],[0.043,0.499,'p'],[0.068,0.502,'g'],[0.000,0.493,'p'],[0.012,0.493,'p'],[0.034,0.443,'g'],[0.043,0.441,'g'],[0.053,0.438,'p'],[0.039,0.421,'p']];

var panelLetters = ['A','B','C','D','E','F','G','H'];
var xLabels = ['Assortativity','Clustering','Density','Diffusion efficiency','Global efficiency','Majorization gap','Modularity','Spectral gap'];
var rhoValues = ['-0.43','0.42','0.73','0.67','0.83','-0.8','-0.85','0.75'];
var xDomains = [[-1,1],[0,1],[0,0.784],[0,0.1],[0,1],[0,1],[0,1],[0,1]];
var xTicks = [[-1,0,1],[0,0.5,1],[0,0.2,0.4,0.6],[0,0.05,0.1],[0,0.5,1],[0,0.5,1],[0,0.5,1],[0,0.5,1]];
var yTicks = [0.4,0.5,0.6,0.7,0.8,0.9,1];
var panelData = [assortativity, clustering, density, diffusion, globalEff, majorization, modularity, spectralGap];
var yLabel = 'Mean within-network CMC';

var groups = ['b','u','g','p','n','o'];
var groupColors = ['#7a5143','#1fa5de','#a9a9a9','#5b37a8','#4aa94e','#f0866b'];

// layout
var colLeft = [77.5, 433.3, 790, 1146.7],
    rowTop = [52.3, 442.7],
    pw = 270.5,
    ph = 280;

var svg = d3.select('#fig');
var color = d3.scaleOrdinal().domain(groups).range(groupColors);
var yScale = d3.scaleLinear().domain([0.4, 1]).range([ph, 0]);
var fmt = function(d) { return String(+d.toFixed(3)); };

panelData.forEach(function(data, i) {
  var gx = colLeft[i % 4], gy = rowTop[Math.floor(i / 4)];
  var g = svg.append('g').attr('transform', 'translate(' + gx + ',' + gy + ')');
  var xScale = d3.scaleLinear().domain(xDomains[i]).range([0, pw]);

  // axes
  var yAxis = d3.axisLeft(yScale).tickValues(yTicks).tickFormat(fmt)
      .tickSizeInner(-3).tickSizeOuter(0).tickPadding(7);
  var xAxis = d3.axisBottom(xScale).tickValues(xTicks[i]).tickFormat(fmt)
      .tickSizeInner(-3).tickSizeOuter(0).tickPadding(10);

  var ya = g.append('g').call(yAxis);
  var xa = g.append('g').attr('transform', 'translate(0,' + ph + ')').call(xAxis);
  [ya, xa].forEach(function(a) {
    a.select('.domain').attr('stroke', '#b5b5b5');
    a.selectAll('.tick line').attr('stroke', '#b5b5b5');
    a.selectAll('.tick text').attr('fill', '#262626')
      .style('font-size', '20px').style('font-family', '"DejaVu Sans", sans-serif');
  });

  // points, drawn group by group
  var sorted = data.slice().sort(function(a, b) { return groups.indexOf(a[2]) - groups.indexOf(b[2]); });
  g.append('g').selectAll('circle').data(sorted)
    .enter().append('circle')
      .attr('cx', function(d) { return xScale(d[0]); })
      .attr('cy', function(d) { return yScale(d[1]); })
      .attr('r', 3.6)
      .attr('fill', function(d) { return color(d[2]); });

  // rho annotation
  var rt = g.append('text').attr('x', pw / 2).attr('y', 16)
      .attr('text-anchor', 'middle').attr('fill', '#262626').style('font-size', '12px');
  rt.append('tspan').style('font-style', 'italic').style('font-family', '"DejaVu Serif", serif').style('font-size', '14px').text('\u03c1');
  rt.append('tspan').text(' = ' + rhoValues[i]);

  // x label
  g.append('text').attr('x', pw / 2).attr('y', ph + 48)
    .attr('text-anchor', 'middle').attr('fill', '#262626').style('font-size', '20px')
    .text(xLabels[i]);

  // panel letter
  g.append('text').attr('x', -71).attr('y', -17)
    .attr('fill', '#111').style('font-size', '34px').text(panelLetters[i]);

  // y label only on first column
  if (i % 4 === 0) {
    g.append('text')
      .attr('transform', 'translate(' + (35 - gx) + ',' + (ph / 2) + ') rotate(-90)')
      .attr('text-anchor', 'middle').attr('fill', '#262626').style('font-size', '20px')
      .text(yLabel);
  }
});
</script>
</body>
</html>
